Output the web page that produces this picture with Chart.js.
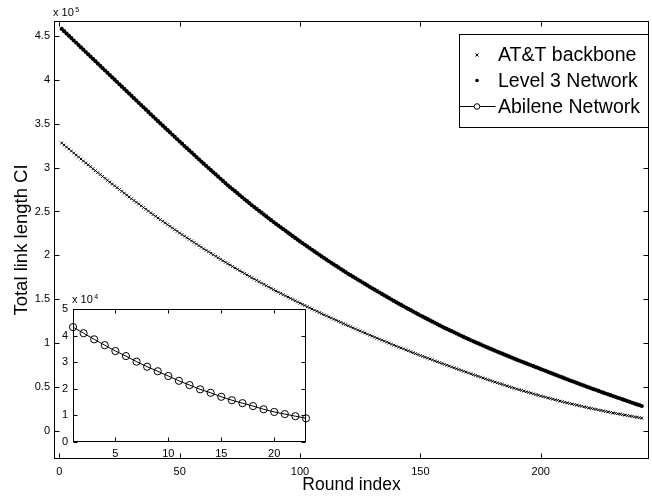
<!DOCTYPE html>
<html lang="en">
<head>
<meta charset="UTF-8">
<title>Total link length CI per round</title>
<script src="https://cdn.jsdelivr.net/npm/chart.js@4"></script>
<style>
  html, body { margin: 0; padding: 0; background: #fff; overflow: hidden; }
  #wrap { position: relative; width: 652px; height: 498px; overflow: hidden; }
  canvas { position: absolute; }
</style>
</head>
<body>
<div id="wrap">
  <canvas id="mainChart" width="654" height="498" style="left:0;top:0"></canvas>
  <canvas id="insetChart" width="280" height="180" style="left:40px;top:285px"></canvas>
</div>
<script>
const seriesNames = ['AT&T backbone', 'Level 3 Network', 'Abilene Network'];

// main plot: one value per round, in units of 10^5
const attValues = [
  3.280,3.257,3.234,3.212,3.189,3.166,3.143,3.121,3.098,3.075,
  3.053,3.031,3.009,2.987,2.965,2.943,2.921,2.899,2.877,2.855,
  2.834,2.813,2.792,2.771,2.750,2.729,2.708,2.687,2.666,2.645,
  2.625,2.605,2.585,2.565,2.545,2.525,2.505,2.485,2.465,2.445,
  2.426,2.407,2.388,2.369,2.350,2.331,2.312,2.293,2.274,2.255,
  2.237,2.219,2.201,2.183,2.165,2.147,2.129,2.111,2.093,2.075,
  2.058,2.041,2.024,2.007,1.990,1.973,1.956,1.939,1.922,1.905,
  1.889,1.873,1.857,1.841,1.825,1.809,1.793,1.777,1.761,1.745,
  1.730,1.715,1.700,1.685,1.670,1.655,1.640,1.625,1.610,1.595,
  1.581,1.567,1.553,1.539,1.525,1.511,1.497,1.483,1.469,1.455,
  1.442,1.429,1.415,1.402,1.389,1.376,1.363,1.349,1.336,1.323,
  1.311,1.298,1.286,1.273,1.261,1.248,1.236,1.223,1.211,1.198,
  1.186,1.174,1.162,1.150,1.139,1.127,1.115,1.103,1.091,1.079,
  1.068,1.056,1.045,1.034,1.023,1.011,1.000,0.989,0.977,0.966,
  0.955,0.945,0.934,0.923,0.913,0.902,0.891,0.880,0.870,0.859,
  0.849,0.839,0.829,0.819,0.809,0.798,0.788,0.778,0.768,0.758,
  0.748,0.738,0.729,0.719,0.709,0.699,0.689,0.680,0.670,0.660,
  0.651,0.641,0.632,0.622,0.613,0.603,0.594,0.584,0.575,0.565,
  0.556,0.548,0.539,0.530,0.522,0.513,0.504,0.495,0.487,0.478,
  0.470,0.462,0.454,0.446,0.438,0.430,0.422,0.414,0.406,0.398,
  0.391,0.384,0.376,0.369,0.362,0.355,0.348,0.340,0.333,0.326,
  0.320,0.313,0.307,0.300,0.294,0.288,0.281,0.275,0.268,0.262,
  0.256,0.251,0.245,0.239,0.234,0.228,0.222,0.216,0.211,0.205,
  0.200,0.195,0.190,0.185,0.180,0.175,0.170,0.165,0.160,0.155,
  0.151,0.146
];
const level3Values = [
  4.580,4.554,4.527,4.501,4.475,4.448,4.422,4.396,4.369,4.343,
  4.317,4.290,4.264,4.238,4.212,4.185,4.159,4.133,4.106,4.080,
  4.054,4.027,4.001,3.975,3.949,3.922,3.896,3.870,3.843,3.817,
  3.791,3.765,3.738,3.712,3.686,3.660,3.634,3.607,3.581,3.555,
  3.529,3.503,3.478,3.452,3.426,3.400,3.374,3.349,3.323,3.297,
  3.272,3.246,3.221,3.196,3.171,3.145,3.120,3.095,3.069,3.044,
  3.020,2.995,2.971,2.946,2.922,2.897,2.873,2.848,2.824,2.799,
  2.776,2.753,2.731,2.708,2.685,2.662,2.639,2.617,2.594,2.571,
  2.550,2.529,2.507,2.486,2.465,2.444,2.423,2.401,2.380,2.359,
  2.339,2.319,2.299,2.279,2.259,2.239,2.219,2.199,2.179,2.159,
  2.140,2.121,2.102,2.083,2.064,2.045,2.026,2.007,1.988,1.969,
  1.951,1.933,1.915,1.897,1.880,1.862,1.844,1.826,1.808,1.790,
  1.774,1.757,1.741,1.724,1.708,1.691,1.675,1.658,1.642,1.625,
  1.609,1.593,1.577,1.561,1.545,1.529,1.513,1.497,1.481,1.465,
  1.450,1.435,1.420,1.405,1.390,1.375,1.360,1.345,1.330,1.315,
  1.301,1.287,1.273,1.259,1.245,1.231,1.217,1.203,1.189,1.175,
  1.162,1.149,1.136,1.123,1.110,1.097,1.084,1.071,1.058,1.045,
  1.033,1.021,1.009,0.997,0.985,0.973,0.961,0.949,0.937,0.925,
  0.914,0.902,0.891,0.880,0.869,0.857,0.846,0.835,0.823,0.812,
  0.801,0.791,0.780,0.769,0.759,0.748,0.737,0.726,0.716,0.705,
  0.694,0.684,0.673,0.662,0.652,0.641,0.630,0.619,0.609,0.598,
  0.588,0.577,0.567,0.557,0.547,0.536,0.526,0.516,0.505,0.495,
  0.485,0.475,0.466,0.456,0.446,0.436,0.426,0.417,0.407,0.397,
  0.388,0.378,0.369,0.359,0.350,0.340,0.331,0.321,0.312,0.302,
  0.293,0.284
];
const rounds = attValues.map((v, i) => i + 1);
const xTicks = [0, 50, 100, 150, 200];
const yTicks = [0, 0.5, 1, 1.5, 2, 2.5, 3, 3.5, 4, 4.5];
const yTickLabels = ['0', '0.5', '1', '1.5', '2', '2.5', '3', '3.5', '4', '4.5'];

// inset: Abilene, units of 10^4
const abileneRounds = [1,2,3,4,5,6,7,8,9,10,11,12,13,14,15,16,17,18,19,20,21,22,23];
const abileneValues = [4.32,4.09,3.86,3.64,3.42,3.23,3.02,2.83,2.66,2.48,2.30,2.14,
                       1.98,1.85,1.70,1.57,1.46,1.35,1.23,1.13,1.05,0.97,0.89];
const insetXTicks = [5, 10, 15, 20];
const insetYTicks = [0, 1, 2, 3, 4, 5];

Chart.defaults.font.family = '"Liberation Sans", Arial, Helvetica, sans-serif';
Chart.defaults.color = '#000';

const FONT_TICK = { size: 11 };

// matlab-like box with inward ticks on all four sides
function boxTicks(len) {
  return {
    id: 'boxTicks',
    afterDraw(chart) {
      const { ctx, chartArea: a, scales: { x, y } } = chart;
      const l = Math.round(a.left) + 0.5, r = Math.round(a.right) - 0.5;
      const t = Math.round(a.top) + 0.5, b = Math.round(a.bottom) - 0.5;
      ctx.save();
      ctx.strokeStyle = '#000';
      ctx.lineWidth = 1;
      ctx.strokeRect(l, t, r - l, b - t);
      ctx.beginPath();
      x.ticks.forEach(tk => {
        const px = Math.round(x.getPixelForValue(tk.value)) + 0.5;
        ctx.moveTo(px, b); ctx.lineTo(px, b - len);
        ctx.moveTo(px, t); ctx.lineTo(px, t + len);
      });
      y.ticks.forEach(tk => {
        const py = Math.round(y.getPixelForValue(tk.value)) + 0.5;
        ctx.moveTo(l, py); ctx.lineTo(l + len, py);
        ctx.moveTo(r, py); ctx.lineTo(r - len, py);
      });
      ctx.stroke();
      ctx.restore();
    }
  };
}

function exponentLabel(exp, dx, dy) {
  return {
    id: 'exponentLabel',
    afterDraw(chart) {
      const { ctx, chartArea: a } = chart;
      ctx.save();
      ctx.fillStyle = '#000';
      ctx.textBaseline = 'alphabetic';
      ctx.font = '11px "Liberation Sans", Arial, sans-serif';
      ctx.fillText('x 10', a.left + dx, a.top + dy);
      const w = ctx.measureText('x 10').width;
      ctx.font = '7px "Liberation Sans", Arial, sans-serif';
      ctx.fillText(exp, a.left + dx + w + 1.5, a.top + dy - 4.5);
      ctx.restore();
    }
  };
}

const legendBox = {
  id: 'legendBox',
  afterDraw(chart) {
    const { ctx } = chart;
    const bx = 459.5, by = 34.5, bw = 189, bh = 93;
    ctx.save();
    ctx.fillStyle = '#fff';
    ctx.fillRect(bx, by, bw, bh);
    ctx.strokeStyle = '#000';
    ctx.lineWidth = 1;
    ctx.strokeRect(bx, by, bw, bh);
    const rows = [55, 80.5, 106.5];
    const mx = 477;
    // x marker
    ctx.beginPath();
    ctx.moveTo(mx - 1.6, rows[0] - 1.6); ctx.lineTo(mx + 1.6, rows[0] + 1.6);
    ctx.moveTo(mx + 1.6, rows[0] - 1.6); ctx.lineTo(mx - 1.6, rows[0] + 1.6);
    ctx.stroke();
    // dot marker
    ctx.fillStyle = '#000';
    ctx.beginPath(); ctx.arc(mx, rows[1], 1.8, 0, Math.PI * 2); ctx.fill();
    // line + circle
    ctx.beginPath(); ctx.moveTo(bx, rows[2]); ctx.lineTo(bx + 36, rows[2]); ctx.stroke();
    ctx.fillStyle = '#fff';
    ctx.beginPath(); ctx.arc(mx, rows[2], 2.8, 0, Math.PI * 2); ctx.fill(); ctx.stroke();
    ctx.fillStyle = '#000';
    ctx.font = '19.5px "Liberation Sans", Arial, sans-serif';
    ctx.textBaseline = 'middle';
    seriesNames.forEach((name, i) => ctx.fillText(name, 498, rows[i] + 1));
    ctx.restore();
  }
};

new Chart(document.getElementById('mainChart'), {
  type: 'scatter',
  data: {
    datasets: [
      {
        label: seriesNames[0],
        data: rounds.map((r, i) => ({ x: r, y: attValues[i] })),
        pointStyle: 'crossRot',
        pointRadius: 1.9,
        borderWidth: 1,
        borderColor: '#000',
        showLine: false
      },
      {
        label: seriesNames[1],
        data: rounds.map((r, i) => ({ x: r, y: level3Values[i] })),
        pointStyle: 'circle',
        pointRadius: 2.1,
        borderWidth: 0,
        backgroundColor: '#000',
        borderColor: '#000',
        showLine: false
      }
    ]
  },
  options: {
    responsive: false,
    animation: false,
    events: [],
    layout: { padding: { left: 0, top: 21, right: 1, bottom: 0 } },
    plugins: { legend: { display: false }, tooltip: { enabled: false } },
    scales: {
      x: {
        type: 'linear',
        min: -2.2,
        max: 245,
        afterBuildTicks: s => { s.ticks = xTicks.map(v => ({ value: v })); },
        afterFit: s => { s.height = 39; },
        grid: { display: false, drawTicks: false },
        border: { display: false },
        ticks: { font: FONT_TICK, padding: 6, maxRotation: 0 },
        title: { display: true, text: 'Round index', font: { size: 17.5 }, padding: { top: 0, bottom: 2 } }
      },
      y: {
        min: -0.32,
        max: 4.67,
        afterBuildTicks: s => { s.ticks = yTicks.map(v => ({ value: v })); },
        afterFit: s => { s.width = 54; },
        grid: { display: false, drawTicks: false },
        border: { display: false },
        ticks: { font: FONT_TICK, padding: 4, callback: v => yTickLabels[yTicks.indexOf(v)] },
        title: { display: true, text: 'Total link length CI', font: { size: 18.5 }, padding: { top: 11, bottom: 0 } }
      }
    }
  },
  plugins: [boxTicks(5), exponentLabel('5', -1, -5), legendBox]
});

const insetBackground = {
  id: 'insetBackground',
  beforeDraw(chart) {
    const { ctx, chartArea: a } = chart;
    ctx.save();
    ctx.fillStyle = '#fff';
    ctx.fillRect(a.left, a.top, a.right - a.left, a.bottom - a.top);
    ctx.restore();
  }
};

new Chart(document.getElementById('insetChart'), {
  type: 'scatter',
  data: {
    datasets: [{
      label: seriesNames[2],
      data: abileneRounds.map((r, i) => ({ x: r, y: abileneValues[i] })),
      showLine: true,
      borderColor: '#000',
      borderWidth: 1,
      pointStyle: 'circle',
      pointRadius: 3.6,
      pointBorderWidth: 1,
      pointBorderColor: '#000',
      pointBackgroundColor: 'rgba(0,0,0,0)',
      clip: false
    }]
  },
  options: {
    responsive: false,
    animation: false,
    events: [],
    layout: { padding: { left: 0, top: 24, right: 14, bottom: 0 } },
    plugins: { legend: { display: false }, tooltip: { enabled: false } },
    scales: {
      x: {
        type: 'linear',
        min: 1,
        max: 23,
        afterBuildTicks: s => { s.ticks = insetXTicks.map(v => ({ value: v })); },
        afterFit: s => { s.height = 23; },
        grid: { display: false, drawTicks: false },
        border: { display: false },
        ticks: { font: FONT_TICK, padding: 5, maxRotation: 0 }
      },
      y: {
        min: 0,
        max: 5,
        afterBuildTicks: s => { s.ticks = insetYTicks.map(v => ({ value: v })); },
        afterFit: s => { s.width = 33; },
        grid: { display: false, drawTicks: false },
        border: { display: false },
        ticks: { font: FONT_TICK, padding: 5 }
      }
    }
  },
  plugins: [insetBackground, boxTicks(4), exponentLabel('4', -1, -6)]
});
</script>
</body>
</html>
